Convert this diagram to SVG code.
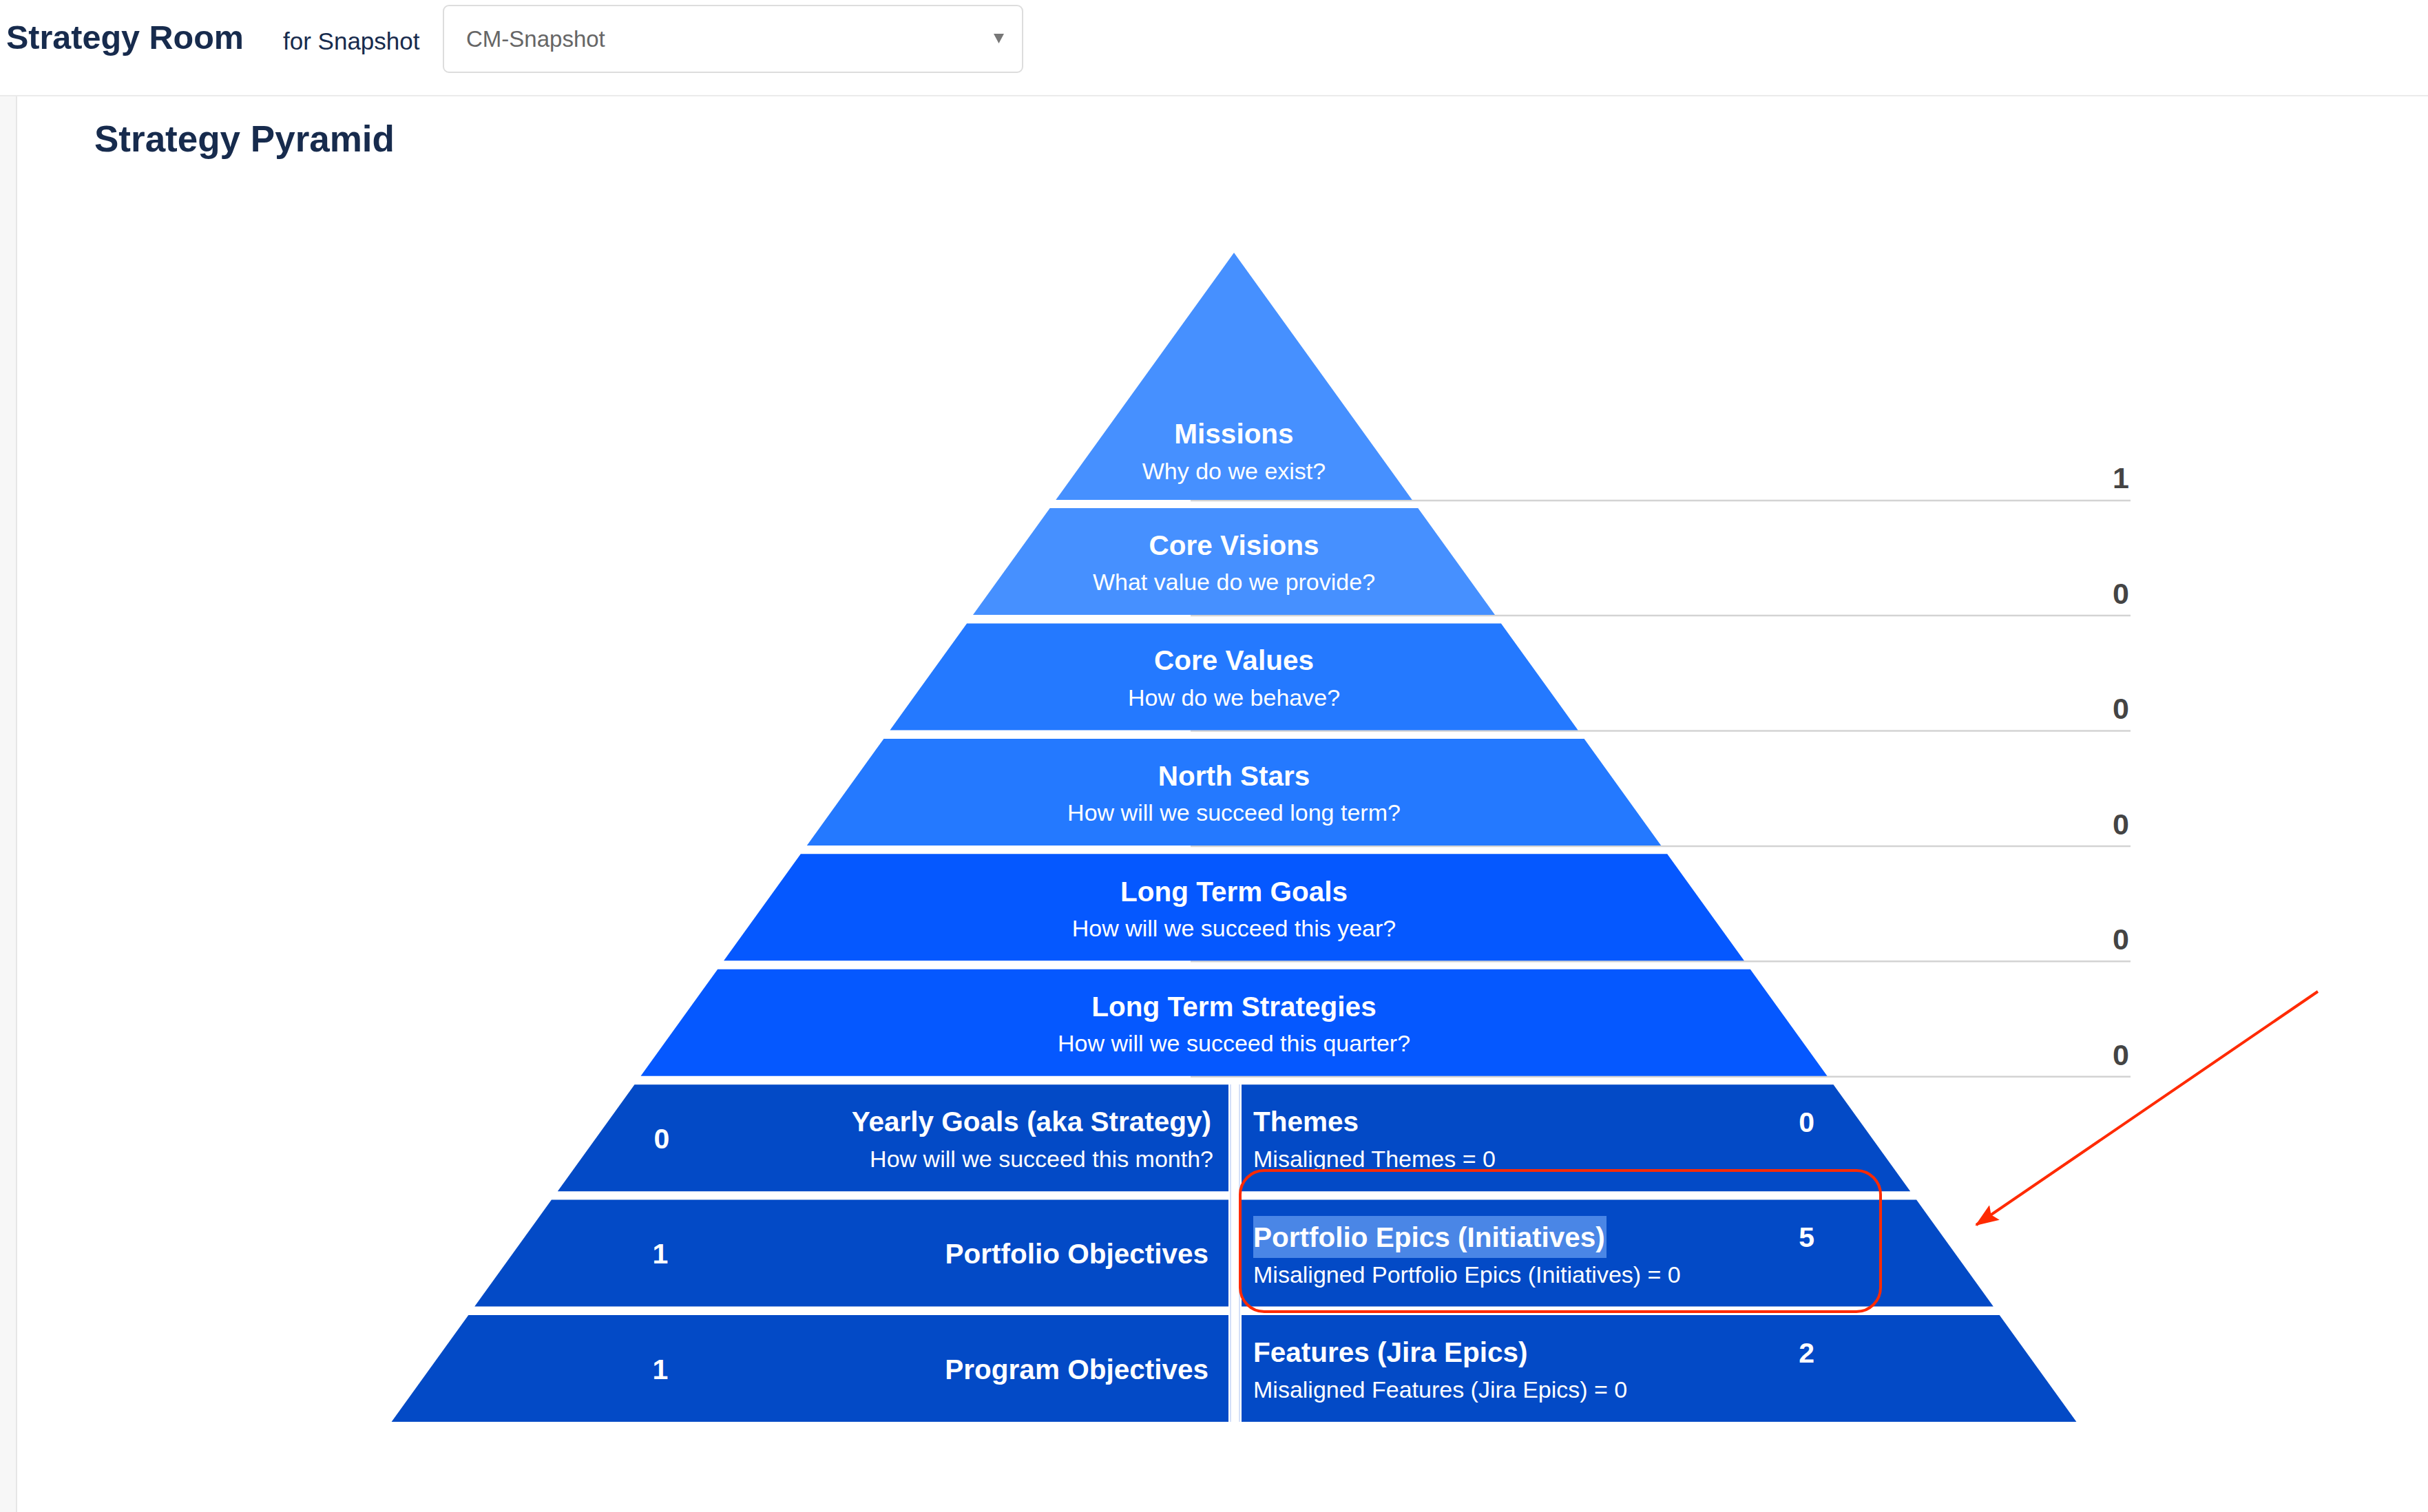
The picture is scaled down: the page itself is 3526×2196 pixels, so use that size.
<svg xmlns="http://www.w3.org/2000/svg" width="3526" height="2196" viewBox="0 0 3526 2196">
<defs>
<style>
text{font-family:"Liberation Sans",Arial,sans-serif}
.hdr{fill:#172b4d;font-weight:700}
.t{fill:#fff;font-weight:700;font-size:40.5px}
.s{fill:#fff;font-size:34px}
.c{text-anchor:middle}
.e{text-anchor:end}
.num{fill:#fff;font-weight:700;font-size:41px}
.gnum{fill:#444;font-weight:700;font-size:43px;text-anchor:end}
.rule{stroke:#d3d3d3;stroke-width:2.5}
.b1{fill:#4690ff}
.b2{fill:#2479ff}
.b3{fill:#0558ff}
.b4{fill:#034ac6}
.band{stroke:#cbdaf8;stroke-width:1.2}
</style>
<marker id="ah" markerWidth="34" markerHeight="26" refX="32" refY="13" orient="auto" markerUnits="userSpaceOnUse">
<path d="M0,0 L34,13 L0,26 L6,13 Z" fill="#ff2a00"/>
</marker>
</defs>
<rect x="0" y="0" width="3526" height="2196" fill="#fff"/>
<g id="header">
<rect x="0" y="140" width="24" height="2056" fill="#f7f7f7"/>
<line x1="24" y1="140" x2="24" y2="2196" stroke="#e6e6e6" stroke-width="2"/>
<line x1="0" y1="139" x2="3526" y2="139" stroke="#ebebeb" stroke-width="2"/>
<text class="hdr" x="9" y="71" font-size="48.5">Strategy Room</text>
<text x="411" y="72" font-size="35" fill="#172b4d" font-weight="500">for Snapshot</text>
<rect x="644" y="8" width="841" height="97" rx="8" fill="#fff" stroke="#dddddd" stroke-width="2"/>
<text x="677" y="68" font-size="33" fill="#666">CM-Snapshot</text>
<polygon points="1443,49 1458,49 1450.5,63" fill="#777"/>
<text class="hdr" x="137" y="220" font-size="53">Strategy Pyramid</text>
</g>
<g id="rules">
<line class="rule" x1="1729" y1="727" x2="3094" y2="727"/>
<line class="rule" x1="1729" y1="894" x2="3094" y2="894"/>
<line class="rule" x1="1729" y1="1061.4" x2="3094" y2="1061.4"/>
<line class="rule" x1="1729" y1="1228.9" x2="3094" y2="1228.9"/>
<line class="rule" x1="1729" y1="1396.3" x2="3094" y2="1396.3"/>
<line class="rule" x1="1729" y1="1563.7" x2="3094" y2="1563.7"/>
</g>
<g id="missions">
<polygon class="b1" points="1792,367 2050.7,726 1533.3,726"/>
<text class="t c" x="1792" y="644">Missions</text>
<text class="s c" x="1792" y="696">Why do we exist?</text>
<text class="gnum" x="3092" y="709">1</text>
</g>
<g id="core-visions">
<polygon class="b1" points="1524.7,738 2059.3,738 2171,893 1413,893"/>
<text class="t c" x="1792" y="806">Core Visions</text>
<text class="s c" x="1792" y="857">What value do we provide?</text>
<text class="gnum" x="3092" y="877">0</text>
</g>
<g id="core-values">
<polygon class="b2" points="1404.1,905.4 2179.9,905.4 2291.6,1060.4 1292.4,1060.4"/>
<text class="t c" x="1792" y="973.4">Core Values</text>
<text class="s c" x="1792" y="1025">How do we behave?</text>
<text class="gnum" x="3092" y="1044">0</text>
</g>
<g id="north-stars">
<polygon class="b2" points="1283.4,1072.9 2300.6,1072.9 2412.2,1227.9 1171.8,1227.9"/>
<text class="t c" x="1792" y="1141">North Stars</text>
<text class="s c" x="1792" y="1192">How will we succeed long term?</text>
<text class="gnum" x="3092" y="1212">0</text>
</g>
<g id="long-term-goals">
<polygon class="b3" points="1162.8,1240.3 2421.2,1240.3 2532.9,1395.3 1051.1,1395.3"/>
<text class="t c" x="1792" y="1308.5">Long Term Goals</text>
<text class="s c" x="1792" y="1360">How will we succeed this year?</text>
<text class="gnum" x="3092" y="1379">0</text>
</g>
<g id="long-term-strategies">
<polygon class="b3" points="1042.2,1407.7 2541.8,1407.7 2653.5,1562.7 930.5,1562.7"/>
<text class="t c" x="1792" y="1476">Long Term Strategies</text>
<text class="s c" x="1792" y="1527">How will we succeed this quarter?</text>
<text class="gnum" x="3092" y="1547">0</text>
</g>
<g id="dividers">
<line x1="1787" y1="1575" x2="1787" y2="2065" stroke="#d4e0f8" stroke-width="2"/>
<line x1="1800" y1="1575" x2="1800" y2="2065" stroke="#d4e0f8" stroke-width="2"/>
</g>
<g id="yearly-goals">
<polygon class="b4" points="921.5,1575.2 1784,1575.2 1784,1730.2 809.8,1730.2"/>
<text class="num c" x="961" y="1667.6">0</text>
<text class="t e" x="1759" y="1643">Yearly Goals (aka Strategy)</text>
<text class="s e" x="1762" y="1695">How will we succeed this month?</text>
</g>
<g id="themes">
<polygon class="b4" points="1803,1575.2 2662.5,1575.2 2774.2,1730.2 1803,1730.2"/>
<text class="t" x="1820" y="1643">Themes</text>
<text class="s" x="1820" y="1695">Misaligned Themes = 0</text>
<text class="num e" x="2635" y="1644">0</text>
</g>
<g id="portfolio-objectives">
<polygon class="b4" points="800.9,1742.6 1784,1742.6 1784,1897.6 689.2,1897.6"/>
<text class="num c" x="959" y="1835">1</text>
<text class="t e" x="1755" y="1835">Portfolio Objectives</text>
</g>
<g id="portfolio-epics">
<polygon class="b4" points="1803,1742.6 2783.1,1742.6 2894.8,1897.6 1803,1897.6"/>
<rect x="1820" y="1766" width="513" height="61" fill="#4a86e6"/>
<text class="t" x="1820" y="1810.6">Portfolio Epics (Initiatives)</text>
<text class="s" x="1820" y="1862.6">Misaligned Portfolio Epics (Initiatives) = 0</text>
<text class="num e" x="2635" y="1811">5</text>
</g>
<g id="program-objectives">
<polygon class="b4" points="680.3,1910 1784,1910 1784,2065 568.6,2065"/>
<text class="num c" x="959" y="2002.5">1</text>
<text class="t e" x="1755" y="2002.5">Program Objectives</text>
</g>
<g id="features">
<polygon class="b4" points="1803,1910 2903.7,1910 3015.4,2065 1803,2065"/>
<text class="t" x="1820" y="1978">Features (Jira Epics)</text>
<text class="s" x="1820" y="2030">Misaligned Features (Jira Epics) = 0</text>
<text class="num e" x="2635" y="1979">2</text>
</g>
<g id="annotation">
<rect x="1801" y="1700" width="930" height="205" rx="35" fill="none" stroke="#ff2a00" stroke-width="4"/>
</g>
<g id="connectors">
<line x1="3366" y1="1440" x2="2870" y2="1779" stroke="#ff2a00" stroke-width="4" marker-end="url(#ah)"/>
</g>
</svg>
